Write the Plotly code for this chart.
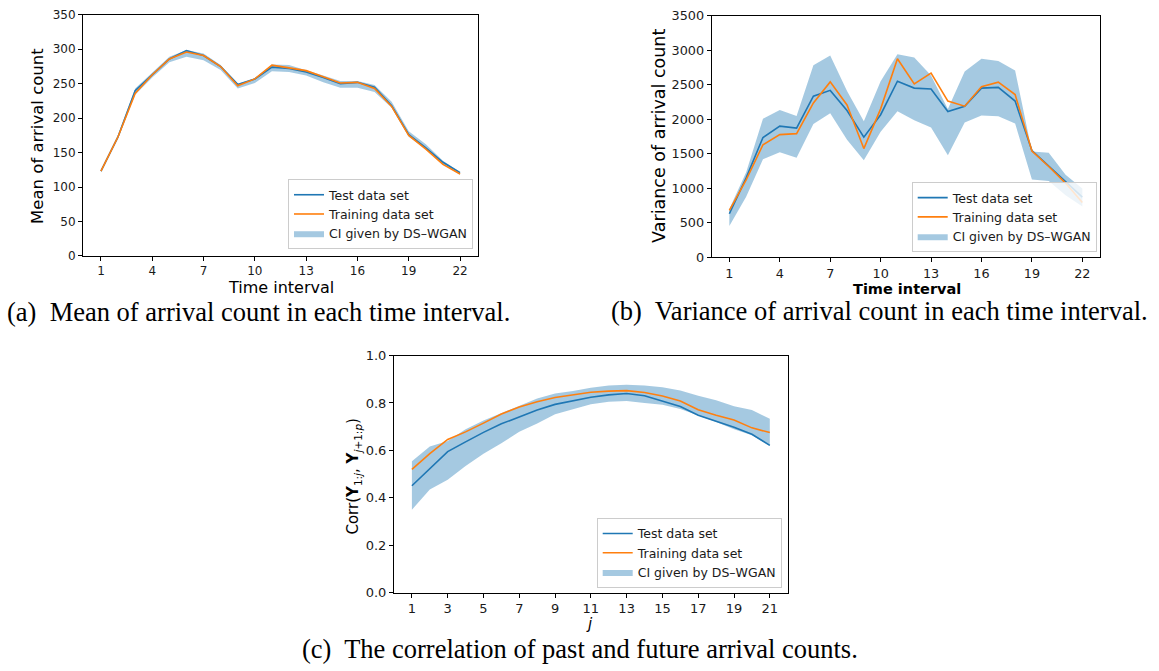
import plotly.graph_objects as go

W, H = 1159, 671

BLUE = "#1f77b4"
ORANGE = "#ff7f0e"
BAND = "rgba(31,119,180,0.4)"

# ---- (a) mean of arrival count per time interval ----
intervals = list(range(1, 23))
mean_test = [123, 173, 240, 263, 286, 298, 291, 275, 249, 257, 274, 272, 267, 259, 250, 252, 245, 218, 176, 157, 136, 121]
mean_train = [123, 173, 236, 263, 286, 296, 291, 275, 247, 257, 277, 273, 269, 260, 251, 252, 243, 217, 175, 155, 133, 119]
mean_ci_low = [121, 170, 234, 259, 281, 289, 284, 270, 243, 251, 268, 267, 262, 252, 244, 244, 238, 215, 173, 155, 133, 118]
mean_ci_high = [125, 176, 243, 266, 289, 299, 294, 277, 250, 258, 278, 277, 270, 262, 254, 254, 248, 224, 181, 162, 138, 122]

# ---- (b) variance of arrival count per time interval ----
var_test = [630, 1150, 1735, 1900, 1872, 2334, 2419, 2127, 1740, 2066, 2551, 2452, 2438, 2113, 2188, 2452, 2462, 2264, 1547, 1325, 1098, 872]
var_train = [680, 1120, 1631, 1777, 1792, 2236, 2542, 2207, 1575, 2151, 2877, 2513, 2669, 2264, 2190, 2471, 2537, 2358, 1540, 1315, 1075, 792]
var_ci_low = [453, 877, 1419, 1523, 1443, 1933, 2089, 1702, 1405, 1820, 2117, 1985, 1882, 1480, 1953, 2056, 2042, 1939, 1127, 1104, 900, 736]
var_ci_high = [700, 1231, 2009, 2136, 2046, 2782, 2924, 2410, 1971, 2551, 2943, 2895, 2636, 2150, 2693, 2877, 2844, 2707, 1532, 1514, 1197, 995]

# ---- (c) correlation of past and future arrival counts ----
lags = list(range(1, 22))
corr_test = [0.451, 0.524, 0.595, 0.636, 0.676, 0.712, 0.742, 0.770, 0.794, 0.809, 0.824, 0.834, 0.840, 0.830, 0.809, 0.785, 0.748, 0.723, 0.698, 0.668, 0.621]
corr_train = [0.520, 0.586, 0.646, 0.678, 0.715, 0.753, 0.783, 0.805, 0.823, 0.835, 0.845, 0.850, 0.852, 0.844, 0.829, 0.808, 0.771, 0.748, 0.728, 0.695, 0.675]
corr_ci_low = [0.350, 0.435, 0.476, 0.534, 0.586, 0.630, 0.679, 0.713, 0.752, 0.772, 0.794, 0.805, 0.808, 0.800, 0.792, 0.774, 0.748, 0.720, 0.689, 0.664, 0.620]
corr_ci_high = [0.554, 0.616, 0.640, 0.689, 0.726, 0.757, 0.789, 0.819, 0.840, 0.850, 0.864, 0.874, 0.877, 0.874, 0.866, 0.853, 0.830, 0.811, 0.786, 0.770, 0.733]

panels = [
    # x values, test, train, ci low, ci high, axis suffix, legend id
    (intervals, mean_test, mean_train, mean_ci_low, mean_ci_high, "", "legend"),
    (intervals, var_test, var_train, var_ci_low, var_ci_high, "2", "legend2"),
    (lags, corr_test, corr_train, corr_ci_low, corr_ci_high, "3", "legend3"),
]

fig = go.Figure()
for xs, test, train, lo, hi, ax, leg in panels:
    xa, ya = "x" + ax, "y" + ax
    fig.add_trace(go.Scatter(x=xs, y=lo, mode="lines", line=dict(width=0, color=BAND),
                             showlegend=False, hoverinfo="skip", xaxis=xa, yaxis=ya))
    fig.add_trace(go.Scatter(x=xs, y=hi, mode="lines", line=dict(width=0, color=BAND),
                             fill="tonexty", fillcolor=BAND, name="CI given by DS\u2013WGAN",
                             legend=leg, legendrank=3, xaxis=xa, yaxis=ya))
    fig.add_trace(go.Scatter(x=xs, y=test, mode="lines", line=dict(width=1.6, color=BLUE),
                             name="Test data set", legend=leg, legendrank=1, xaxis=xa, yaxis=ya))
    fig.add_trace(go.Scatter(x=xs, y=train, mode="lines", line=dict(width=1.6, color=ORANGE),
                             name="Training data set", legend=leg, legendrank=2, xaxis=xa, yaxis=ya))


def px_dom(a, b, total):
    return [a / total, b / total]


def py_dom(top, bottom):
    return [1 - bottom / H, 1 - top / H]


def axis_style(fs):
    return dict(showline=True, linecolor="black", linewidth=1, mirror=True,
                ticks="outside", ticklen=4, tickwidth=1, tickcolor="black",
                showgrid=False, zeroline=False,
                tickfont=dict(family="DejaVu Sans", size=fs, color="#1a1a1a"))


fig.update_layout(
    width=W, height=H, margin=dict(l=0, r=0, t=0, b=0),
    paper_bgcolor="white", plot_bgcolor="white", showlegend=True,
    xaxis=dict(domain=px_dom(83, 478, W), range=[-0.05, 23.05], tickvals=[1, 4, 7, 10, 13, 16, 19, 22],
               anchor="y", **axis_style(12)),
    yaxis=dict(domain=py_dom(7, 254), range=[0, 350], tickvals=list(range(0, 351, 50)),
               anchor="x", **axis_style(12)),
    xaxis2=dict(domain=px_dom(711.7, 1100, W), range=[-0.05, 23.05], tickvals=[1, 4, 7, 10, 13, 16, 19, 22],
                anchor="y2", **axis_style(12.8)),
    yaxis2=dict(domain=py_dom(8, 255.3), range=[0, 3500], tickvals=list(range(0, 3501, 500)),
                anchor="x2", **axis_style(12.8)),
    xaxis3=dict(domain=px_dom(394, 787.7, W), range=[0, 22], tickvals=list(range(1, 22, 2)),
                anchor="y3", **axis_style(13)),
    yaxis3=dict(domain=py_dom(356, 599), range=[0, 1.0], tickvals=[0, 0.2, 0.4, 0.6, 0.8, 1.0],
                tickformat=".1f", anchor="x3", **axis_style(13)),
)

legend_common = dict(bgcolor="rgba(255,255,255,0.8)", bordercolor="#cccccc", borderwidth=1,
                     font=dict(family="DejaVu Sans", size=12.5, color="#1a1a1a"),
                     xanchor="right", yanchor="bottom", tracegroupgap=0, itemwidth=30,
                     traceorder="normal")
fig.update_layout(
    legend=dict(x=473 / W, y=1 - 247 / H, **legend_common),
    legend2=dict(x=1096.7 / W, y=1 - 250 / H, **legend_common),
    legend3=dict(x=781.7 / W, y=1 - 594 / H, **legend_common),
)


def label(text, x, y, size, angle=0, family="DejaVu Sans", bold=False):
    fig.add_annotation(text=f"<b>{text}</b>" if bold else text, x=x / W, y=1 - y / H,
                       xref="paper", yref="paper", showarrow=False, textangle=angle,
                       xanchor="center", yanchor="middle",
                       font=dict(family=family, size=size, color="black"))


# axis titles
label("Time interval", 281, 286, 16)
label("Mean of arrival count", 38, 131, 16.5, angle=-90)
label("Time interval", 907, 288, 14.5, bold=True)
label("Variance of arrival count", 659, 131, 17.5, angle=-90)
label("<i>j</i>", 589, 631, 15)
label("Corr(<b>Y</b><sub>1:<i>j</i></sub>, <b>Y</b><sub><i>j</i>+1:<i>p</i></sub>)", 354, 480, 15, angle=-90)

# subfigure captions
SERIF = "Liberation Serif"
label("(a)  Mean of arrival count in each time interval.", 258.5, 311, 26.5, family=SERIF)
label("(b)  Variance of arrival count in each time interval.", 879, 310, 26.5, family=SERIF)
label("(c)  The correlation of past and future arrival counts.", 579.5, 657, 26.5, family=SERIF)

fig.write_html("out.html")
